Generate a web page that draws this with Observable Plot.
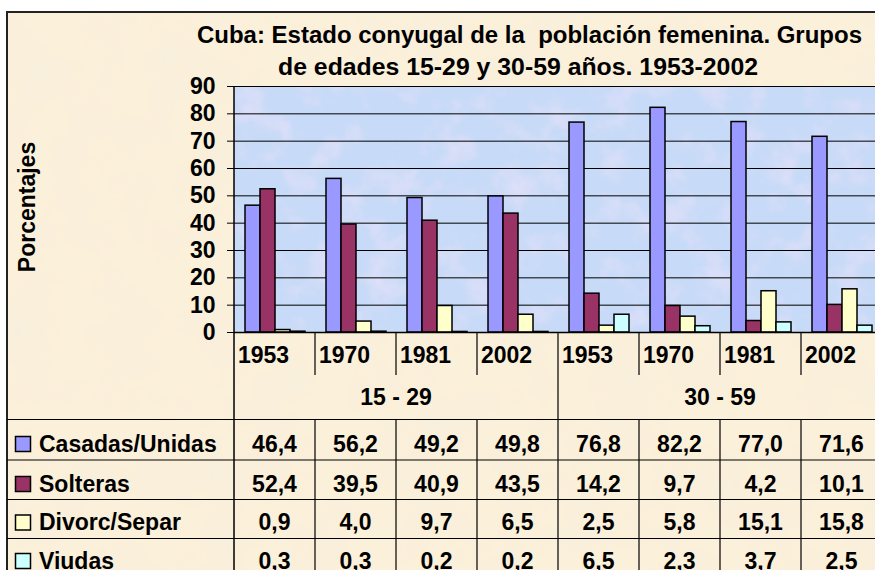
<!DOCTYPE html>
<html>
<head>
<meta charset="utf-8">
<script src="https://cdn.jsdelivr.net/npm/d3@7"></script>
<script src="https://cdn.jsdelivr.net/npm/@observablehq/plot@0.6"></script>
<style>
  html, body { margin: 0; padding: 0; background: #ffffff; }
  #wrap { position: relative; width: 875px; height: 570px; overflow: hidden; background: #ffffff; }
</style>
</head>
<body>
<div id="wrap"></div>
<script>
// ---- data ----
const titleLines = ["Cuba: Estado conyugal de la  población femenina. Grupos", "de edades 15-29 y 30-59 años. 1953-2002"];
const yLabel = "Porcentajes";
const groups = ["15 - 29", "30 - 59"];
const years = ["1953", "1970", "1981", "2002"];
const series = ["Casadas/Unidas", "Solteras", "Divorc/Separ", "Viudas"];
const casadas  = [46.4, 56.2, 49.2, 49.8, 76.8, 82.2, 77.0, 71.6];
const solteras = [52.4, 39.5, 40.9, 43.5, 14.2,  9.7,  4.2, 10.1];
const divorc   = [ 0.9,  4.0,  9.7,  6.5,  2.5,  5.8, 15.1, 15.8];
const viudas   = [ 0.3,  0.3,  0.2,  0.2,  6.5,  2.3,  3.7,  2.5];
const yTicks = [0, 10, 20, 30, 40, 50, 60, 70, 80, 90];
const colors = ["#9999ff", "#993366", "#ffffcc", "#ccffff"];

// ---- build table ----
const seriesValues = [casadas, solteras, divorc, viudas];
const keys = groups.flatMap(g => years.map(y => g + "|" + y));
const data = keys.flatMap((k, i) => series.map((s, j) => ({key: k, series: s, value: seriesValues[j][i]})));

const font = "'Liberation Sans', Arial, sans-serif";
const parchment = "#fbf0d9";
const plotBg = "#c9daf6";

const chart = Plot.plot({
  width: 900,
  height: 570,
  marginTop: 86,
  marginBottom: 238,
  marginLeft: 231,
  marginRight: 16,
  fx: {domain: keys, padding: 0, axis: null},
  x: {domain: series, paddingInner: 0, paddingOuter: 0.68, axis: null},
  y: {domain: [0, 90], ticks: yTicks, tickSize: 7, tickPadding: 12, label: null, tickFormat: d => String(d)},
  color: {domain: series, range: colors},
  style: {fontFamily: font, fontSize: "23px", fontWeight: "bold", background: "transparent", color: "#000", maxWidth: "none", overflow: "hidden"},
  marks: [
    Plot.frame({fill: plotBg, fillOpacity: 0.6, stroke: "none"}),
    Plot.ruleY(yTicks.filter(t => t > 0), {stroke: "#000", strokeWidth: 1}),
    Plot.barY(data, {fx: "key", x: "series", y: "value", fill: "series", stroke: "#000", strokeWidth: 1.5}),
    Plot.ruleY([0], {stroke: "#000", strokeWidth: 1.5})
  ]
});
chart.style.maxWidth = "none";
document.getElementById("wrap").appendChild(chart);

// ---- overlay: background box, title, table ----
const svg = d3.select(chart);
const fxs = chart.scale("fx");
const bw = fxs.bandwidth;
const colX = k => fxs.apply(k);
const left = colX(keys[0]);
const right = colX(keys[keys.length - 1]) + bw;
const yZero = chart.scale("y").apply(0);
const yTop = chart.scale("y").apply(90);

// texture filters (purely decorative backgrounds)
const defs = svg.insert("defs", ":first-child");
const mkNoise = (id, freq, seed, matrix) => {
  const f = defs.append("filter").attr("id", id).attr("x", 0).attr("y", 0).attr("width", "100%").attr("height", "100%")
    .attr("filterUnits", "objectBoundingBox");
  f.append("feTurbulence").attr("type", "fractalNoise").attr("baseFrequency", freq).attr("numOctaves", 4).attr("seed", seed).attr("result", "n");
  f.append("feColorMatrix").attr("in", "n").attr("type", "matrix").attr("values", matrix).attr("result", "c");
  f.append("feComposite").attr("in", "c").attr("in2", "SourceGraphic").attr("operator", "in").attr("result", "m");
  f.append("feMerge").call(m => { m.append("feMergeNode").attr("in", "SourceGraphic"); m.append("feMergeNode").attr("in", "m"); });
};
mkNoise("paper", 0.02, 3, "0 0 0 0 0.93  0 0 0 0 0.86  0 0 0 0 0.72  2.2 0 0 0 -1.05");
mkNoise("blotch", 0.03, 7, "0 0 0 0 0.90  0 0 0 0 0.78  0 0 0 0 0.96  3.0 0 0 0 -1.45");

const bgG = svg.insert("g", "defs + *");
bgG.append("rect")
  .attr("x", 7).attr("y", 12).attr("width", 900).attr("height", 600)
  .attr("fill", parchment).attr("filter", "url(#paper)");
bgG.append("rect")
  .attr("x", 7).attr("y", 12).attr("width", 900).attr("height", 600)
  .attr("fill", "none").attr("stroke", "#222").attr("stroke-width", 2);
bgG.append("rect")
  .attr("x", left).attr("y", yTop).attr("width", right - left).attr("height", yZero - yTop)
  .attr("fill", "#c2daf8").attr("filter", "url(#blotch)");

const ov = svg.append("g").attr("font-family", font).attr("font-weight", "bold").attr("fill", "#000").attr("text-anchor", "start");

// title
const tl = [{x: 529.5, y: 43, len: 665}, {x: 518, y: 75, len: 480}];
titleLines.forEach((t, i) => {
  ov.append("text").attr("x", tl[i].x).attr("y", tl[i].y).attr("text-anchor", "middle")
    .attr("font-size", 23).attr("textLength", tl[i].len).attr("lengthAdjust", "spacingAndGlyphs").text(t);
});

// y label
ov.append("text").attr("transform", `translate(35,${(yTop + yZero) / 2 - 2}) rotate(-90)`)
  .attr("text-anchor", "middle").attr("font-size", 23).text(yLabel);

// lines
const ln = (x1, y1, x2, y2, w = 1.2) => ov.append("line").attr("x1", x1).attr("y1", y1).attr("x2", x2).attr("y2", y2)
  .attr("stroke", "#000").attr("stroke-width", w);
const yearRowBottom = 375;
const rowLines = [419.5, 460, 499.5, 538.5];
ln(left, yTop, left, 580, 1.5);
keys.forEach((k, i) => {
  if (i === 0) return;
  const x = colX(k);
  if (i % years.length === 0) {
    ln(x, yZero, x, 580);
  } else {
    ln(x, yZero, x, yearRowBottom);
    ln(x, rowLines[0], x, 580);
  }
});
rowLines.forEach(y => ln(7, y, 900, y));

// year labels
keys.forEach(k => {
  ov.append("text").attr("x", colX(k) + 4).attr("y", 363).attr("text-anchor", "start").attr("font-size", 23).text(k.split("|")[1]);
});
// group labels
groups.forEach(g => {
  const ks = keys.filter(k => k.startsWith(g + "|"));
  const cx = (colX(ks[0]) + colX(ks[ks.length - 1]) + bw) / 2;
  ov.append("text").attr("x", cx).attr("y", 405).attr("text-anchor", "middle").attr("font-size", 23).text(g);
});
// data rows
const rowBase = [451.5, 491.5, 530, 568.5];
series.forEach((s, j) => {
  ov.append("rect").attr("x", 15.5).attr("y", rowBase[j] - 15).attr("width", 15).attr("height", 15)
    .attr("fill", colors[j]).attr("stroke", "#000").attr("stroke-width", 1.5);
  ov.append("text").attr("x", 39).attr("y", rowBase[j]).attr("text-anchor", "start").attr("font-size", 23).text(s);
  keys.forEach((k, i) => {
    ov.append("text").attr("x", colX(k) + bw / 2).attr("y", rowBase[j]).attr("text-anchor", "middle")
      .attr("font-size", 23).text(seriesValues[j][i].toFixed(1).replace(".", ","));
  });
});
</script>
</body>
</html>
